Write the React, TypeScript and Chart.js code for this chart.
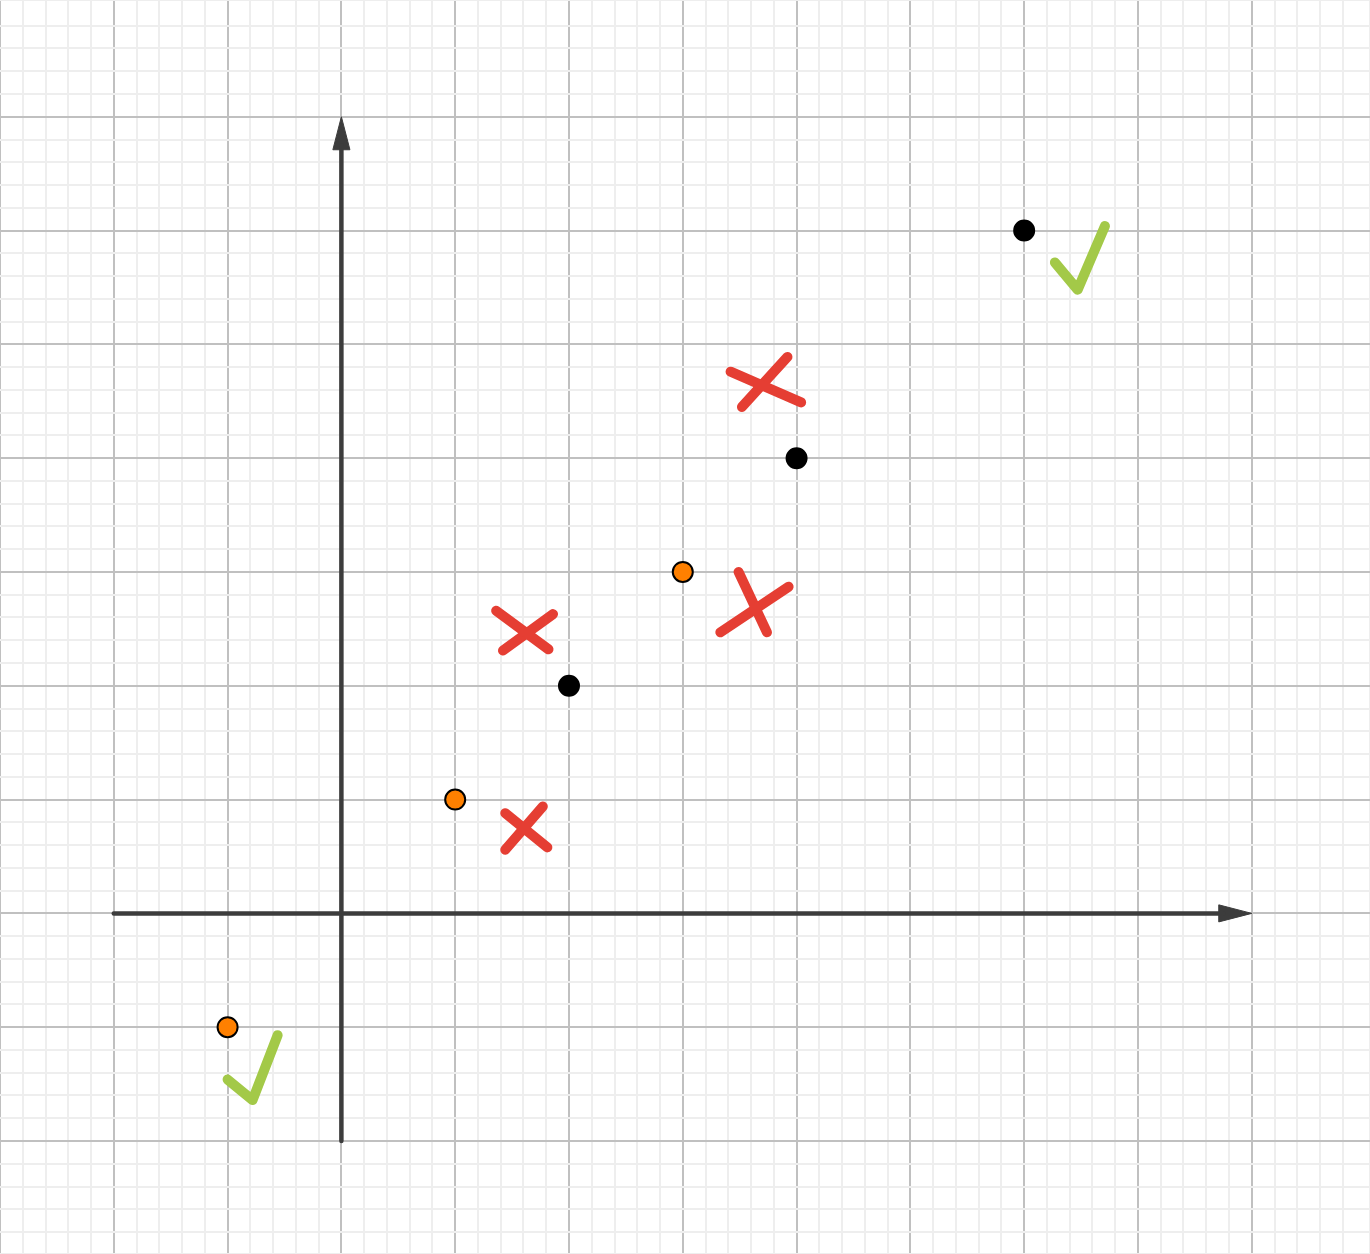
import React, { useEffect, useRef } from "react";
import { Chart, registerables } from "chart.js";

Chart.register(...registerables);

const X_MIN = -3;
const X_MAX = 9.039;
const Y_MIN = -2.993;
const Y_MAX = 8.026;
const GRID_STEP = 0.2;

const blackPoints = [
  { x: 2, y: 2 },
  { x: 4, y: 4 },
  { x: 6, y: 6 },
];
const orangePoints = [
  { x: -1, y: -1 },
  { x: 1, y: 1 },
  { x: 3, y: 3 },
];

const xAxisLine = [
  { x: -2, y: 0 },
  { x: 7.75, y: 0 },
];
const xArrowHead = [
  { x: 7.71, y: 0.075 },
  { x: 8, y: 0 },
  { x: 7.71, y: -0.075 },
  { x: 7.71, y: 0.075 },
];
const yAxisLine = [
  { x: 0, y: -2 },
  { x: 0, y: 6.75 },
];
const yArrowHead = [
  { x: -0.075, y: 6.71 },
  { x: 0, y: 7 },
  { x: 0.075, y: 6.71 },
  { x: -0.075, y: 6.71 },
];

const redCrossStrokes = [
  [{ x: 1.36, y: 2.66 }, { x: 1.82, y: 2.32 }],
  [{ x: 1.42, y: 2.31 }, { x: 1.86, y: 2.63 }],
  [{ x: 1.44, y: 0.88 }, { x: 1.81, y: 0.58 }],
  [{ x: 1.77, y: 0.94 }, { x: 1.44, y: 0.56 }],
  [{ x: 3.42, y: 4.76 }, { x: 4.04, y: 4.49 }],
  [{ x: 3.92, y: 4.89 }, { x: 3.52, y: 4.45 }],
  [{ x: 3.49, y: 3.0 }, { x: 3.74, y: 2.47 }],
  [{ x: 3.33, y: 2.47 }, { x: 3.93, y: 2.87 }],
];

const greenCheckStrokes = [
  [{ x: 6.27, y: 5.72 }, { x: 6.47, y: 5.48 }, { x: 6.71, y: 6.04 }],
  [{ x: -1.0, y: -1.46 }, { x: -0.78, y: -1.64 }, { x: -0.56, y: -1.07 }],
];

const AXIS_COLOR = "#3c3c3c";
const RED = "#e53e33";
const GREEN = "#a3c948";
const MAJOR_GRID = "#c0c0c0";
const MINOR_GRID = "#eeeeee";

function isMajor(v: number) {
  return Math.abs(v - Math.round(v)) < 1e-6;
}

export default function App() {
  const ref = useRef<HTMLCanvasElement | null>(null);

  useEffect(() => {
    if (!ref.current) return;
    const lineDs = (data: any[], color: string, width: number) => ({
      data,
      showLine: true,
      borderColor: color,
      borderWidth: width,
      borderCapStyle: "round",
      borderJoinStyle: "round",
      pointRadius: 0,
      pointHoverRadius: 0,
      fill: false,
      tension: 0,
    });
    const datasets: any[] = [
      lineDs(xAxisLine, AXIS_COLOR, 4.5),
      lineDs(yAxisLine, AXIS_COLOR, 4.5),
      {
        ...lineDs(xArrowHead, AXIS_COLOR, 1),
        borderCapStyle: "butt",
        borderJoinStyle: "miter",
        fill: "shape",
        backgroundColor: AXIS_COLOR,
      },
      {
        ...lineDs(yArrowHead, AXIS_COLOR, 1),
        borderCapStyle: "butt",
        borderJoinStyle: "miter",
        fill: "shape",
        backgroundColor: AXIS_COLOR,
      },
      ...redCrossStrokes.map((s) => lineDs(s, RED, 10)),
      ...greenCheckStrokes.map((s) => lineDs(s, GREEN, 10)),
      {
        data: blackPoints,
        showLine: false,
        pointRadius: 10,
        pointBorderWidth: 2,
        pointBackgroundColor: "#000000",
        pointBorderColor: "#000000",
      },
      {
        data: orangePoints,
        showLine: false,
        pointRadius: 10,
        pointBorderWidth: 2,
        pointBackgroundColor: "#ff8000",
        pointBorderColor: "#000000",
      },
    ];

    const gridOpts = {
      color: (ctx: any) =>
        isMajor(ctx.tick?.value ?? 0.5) ? MAJOR_GRID : MINOR_GRID,
      lineWidth: 2,
      drawTicks: false,
      tickLength: 0,
      z: -1,
    };

    const chart = new Chart(ref.current, {
      type: "scatter",
      data: { datasets },
      options: {
        animation: false,
        responsive: false,
        maintainAspectRatio: false,
        devicePixelRatio: 1,
        layout: { padding: 0, autoPadding: false },
        plugins: {
          legend: { display: false },
          tooltip: { enabled: false },
          title: { display: false },
        },
        events: [],
        scales: {
          x: {
            type: "linear",
            min: X_MIN,
            max: X_MAX,
            ticks: { display: false, stepSize: GRID_STEP, padding: 0 },
            grid: gridOpts as any,
            border: { display: false },
          },
          y: {
            type: "linear",
            min: Y_MIN,
            max: Y_MAX,
            ticks: { display: false, stepSize: GRID_STEP, padding: 0 },
            grid: gridOpts as any,
            border: { display: false },
          },
        },
      } as any,
    });
    return () => chart.destroy();
  }, []);

  return (
    <div
      style={{
        position: "fixed",
        left: 0,
        top: 0,
        width: 1370,
        height: 1254,
        background: "#ffffff",
      }}
    >
      <canvas
        ref={ref}
        width={1370}
        height={1254}
        style={{ display: "block", width: 1370, height: 1254 }}
      />
    </div>
  );
}
